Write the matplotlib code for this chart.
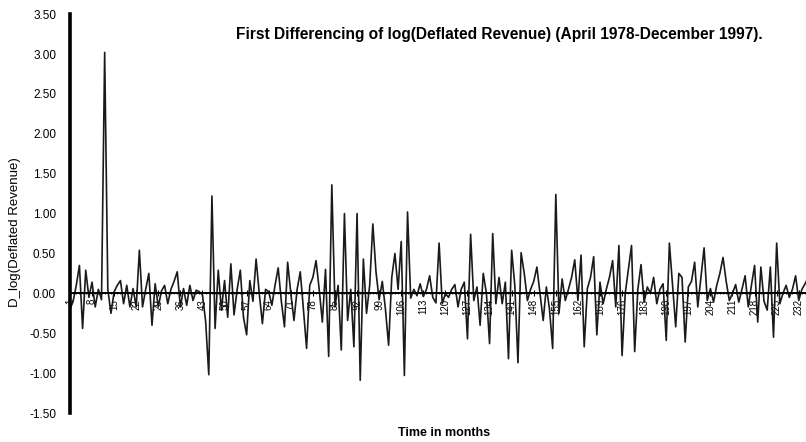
import matplotlib
matplotlib.use("Agg")
import matplotlib.pyplot as plt
from matplotlib.ticker import FormatStrFormatter, MultipleLocator

# first difference of log(deflated revenue), one value per month
months = list(range(1, 237))
d_log = [
    -0.20, -0.10, 0.10, 0.35, -0.44, 0.29, -0.05, 0.14, -0.17, 0.05,
    -0.08, 3.02, 0.05, -0.25, 0.02, 0.10, 0.16, -0.13, 0.10, -0.17,
    0.06, -0.17, 0.54, -0.17, 0.05, 0.25, -0.40, 0.12, -0.17, 0.03,
    0.10, -0.13, 0.05, 0.15, 0.27, -0.17, 0.06, -0.15, 0.10, -0.09,
    0.04, 0.02, -0.02, -0.35, -1.02, 1.22, -0.44, 0.29, -0.21, 0.16,
    -0.30, 0.37, -0.27, 0.05, 0.29, -0.30, -0.52, 0.16, -0.10, 0.43,
    0.00, -0.38, 0.05, 0.02, -0.15, 0.10, 0.32, -0.10, -0.42, 0.39,
    0.00, -0.34, 0.05, 0.27, -0.20, -0.69, 0.10, 0.20, 0.41, 0.05,
    -0.36, 0.30, -0.79, 1.36, -0.17, 0.10, -0.71, 1.00, -0.34, 0.05,
    -0.67, 1.00, -1.09, 0.43, -0.25, 0.10, 0.87, 0.27, -0.08, 0.15,
    -0.20, -0.65, 0.20, 0.50, 0.05, 0.65, -1.03, 1.02, -0.06, 0.05,
    -0.03, 0.12, -0.04, 0.05, 0.22, -0.05, -0.12, 0.63, -0.13, 0.00,
    -0.05, 0.05, 0.11, -0.17, 0.05, 0.14, -0.57, 0.74, -0.09, 0.08,
    -0.40, 0.25, 0.00, -0.63, 0.75, -0.13, 0.20, -0.13, 0.14, -0.82,
    0.54, 0.10, -0.87, 0.51, 0.25, -0.09, 0.05, 0.15, 0.33, 0.00,
    -0.34, 0.08, -0.20, -0.69, 1.24, -0.25, 0.18, -0.09, 0.05, 0.20,
    0.42, -0.09, 0.48, -0.67, 0.06, 0.20, 0.46, -0.52, 0.14, -0.13,
    0.05, 0.20, 0.41, -0.17, 0.60, -0.78, 0.00, 0.30, 0.60, -0.73,
    0.05, 0.36, -0.11, 0.08, 0.00, 0.20, -0.13, 0.05, 0.12, -0.59,
    0.63, 0.10, -0.42, 0.25, 0.20, -0.61, 0.08, 0.15, 0.39, -0.17,
    0.20, 0.57, -0.09, 0.06, -0.11, 0.10, 0.25, 0.45, 0.15, -0.09,
    0.00, 0.11, -0.11, 0.05, 0.22, -0.17, 0.10, 0.35, -0.36, 0.33,
    -0.10, -0.21, 0.33, -0.55, 0.63, -0.13, 0.00, 0.10, -0.05, 0.05,
    0.22, -0.09, 0.05, 0.12, 0.20, 0.15,
]
x_ticks = list(range(1, 237, 7))

plt.rcParams['font.family'] = ['Liberation Sans', 'DejaVu Sans']

fig = plt.figure(figsize=(8.06, 4.42), dpi=100)
ax = fig.add_axes([0.0868, 0.0656, 0.9132, 0.9024])

ax.plot(months, d_log, color='#1a1a1a', linewidth=1.2)

ax.set_xlim(1, 234.3)
ax.set_ylim(-1.5, 3.5)

ax.spines['top'].set_visible(False)
ax.spines['right'].set_visible(False)
ax.spines['left'].set_linewidth(2.6)
ax.spines['bottom'].set_position(('data', 0))
ax.spines['bottom'].set_linewidth(1.4)

ax.yaxis.set_major_locator(MultipleLocator(0.5))
ax.yaxis.set_major_formatter(FormatStrFormatter('%.2f'))
ax.tick_params(axis='y', length=0, pad=10, labelsize=8.5)

ax.set_xticks(x_ticks)
ax.set_xticklabels([str(t) for t in x_ticks], rotation=90)
ax.xaxis.set_minor_locator(MultipleLocator(1))
ax.tick_params(axis='x', which='major', direction='inout', length=4,
               width=0.8, labelsize=7, pad=2)
ax.tick_params(axis='x', which='minor', direction='inout', length=2,
               width=0.6)

fig.text(0.019, 0.475, 'D_log(Deflated Revenue)', rotation=90,
         ha='center', va='center', fontsize=9.5)
fig.text(0.619, 0.922, 'First Differencing of log(Deflated Revenue) '
         '(April 1978-December 1997).', ha='center', va='center',
         fontsize=11.2, fontweight='bold')
fig.text(0.551, 0.02, 'Time in months', ha='center', va='center',
         fontsize=9, fontweight='bold')

fig.savefig('out.png', dpi=100)
